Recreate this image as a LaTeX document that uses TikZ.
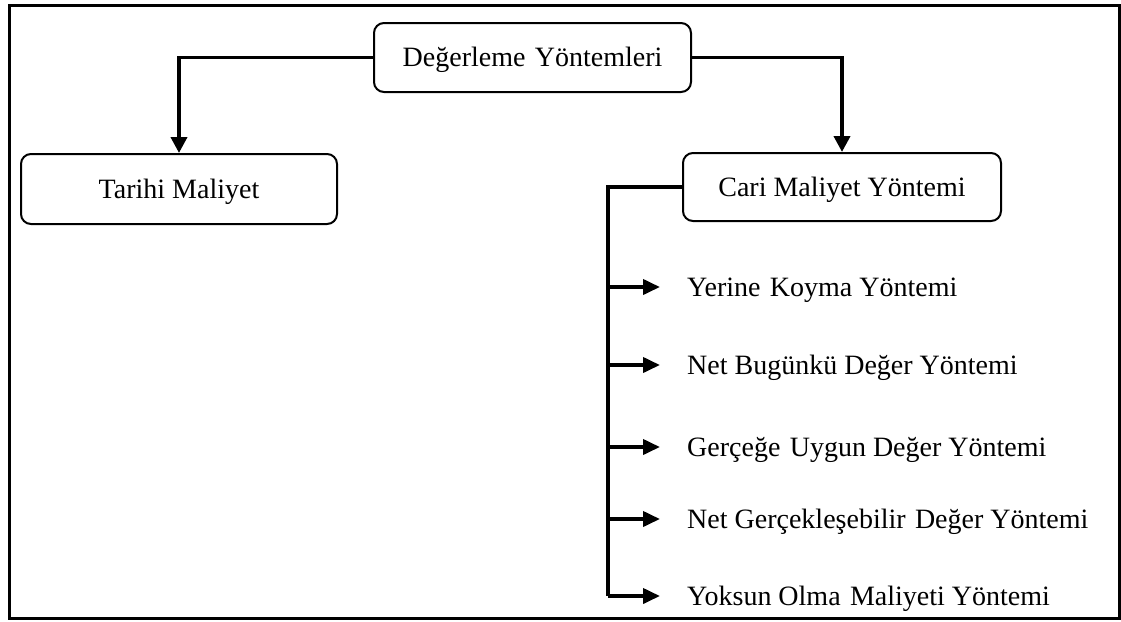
\documentclass[tikz,border=0pt]{standalone}
\usepackage{fontspec}
\setmainfont{Liberation Serif}
\usetikzlibrary{arrows.meta}
\tikzset{
  lbl/.style={font=\fontsize{28}{32}\selectfont, text height=18.5pt, text depth=0pt, inner sep=0pt},
  rbox/.style={lbl, draw, line width=2pt, rounded corners=10pt, align=center},
  conn/.style={line width=3.8pt, -{Triangle[length=16pt,width=16pt]}},
  brarrow/.style={line width=3.8pt, -{Triangle[length=17pt,width=15pt]}},
  trunk/.style={line width=4.2pt, line join=miter}
}
\begin{document}
\begin{tikzpicture}[x=1pt,y=-1pt]
\useasboundingbox (0,0) rectangle (1121,621);
\fill[white] (0,0) rectangle (1121,621);
\draw[line width=3pt] (9,5) rectangle (1119,618);

\node[rbox, minimum width=317pt, minimum height=69pt] (top) at (532.5,57.5) {Değerleme\,\,Yöntemleri};
\node[rbox, minimum width=316pt, minimum height=70pt] (tarihi) at (179,189) {Tarihi Maliyet};
\node[rbox, minimum width=318pt, minimum height=68pt] (cari) at (842,187) {Cari Maliyet Yöntemi};

\draw[conn] (top.west) -| (tarihi.north);
\draw[conn] (top.east) -| (cari.north);

\coordinate (b1) at (608,287);
\coordinate (b2) at (608,365);
\coordinate (b3) at (608,447);
\coordinate (b4) at (608,519);
\coordinate (b5) at (608,596);

\draw[trunk] (cari.west) -| (b5);

\node[lbl, anchor=west] (l1) at (687,287) {Yerine\,\,Koyma Yöntemi};
\node[lbl, anchor=west] (l2) at (687,365) {Net Bugünkü Değer Yöntemi};
\node[lbl, anchor=west] (l3) at (687,447) {Gerçeğe\,\,Uygun Değer Yöntemi};
\node[lbl, anchor=west] (l4) at (687,519) {Net Gerçekleşebilir\,\,Değer Yöntemi};
\node[lbl, anchor=west] (l5) at (687,596) {Yoksun Olma\,\,Maliyeti Yöntemi};

\foreach \i in {1,...,5}{
  \draw[brarrow, shorten >=27pt] (b\i) -- (l\i.west);
}
\end{tikzpicture}
\end{document}
